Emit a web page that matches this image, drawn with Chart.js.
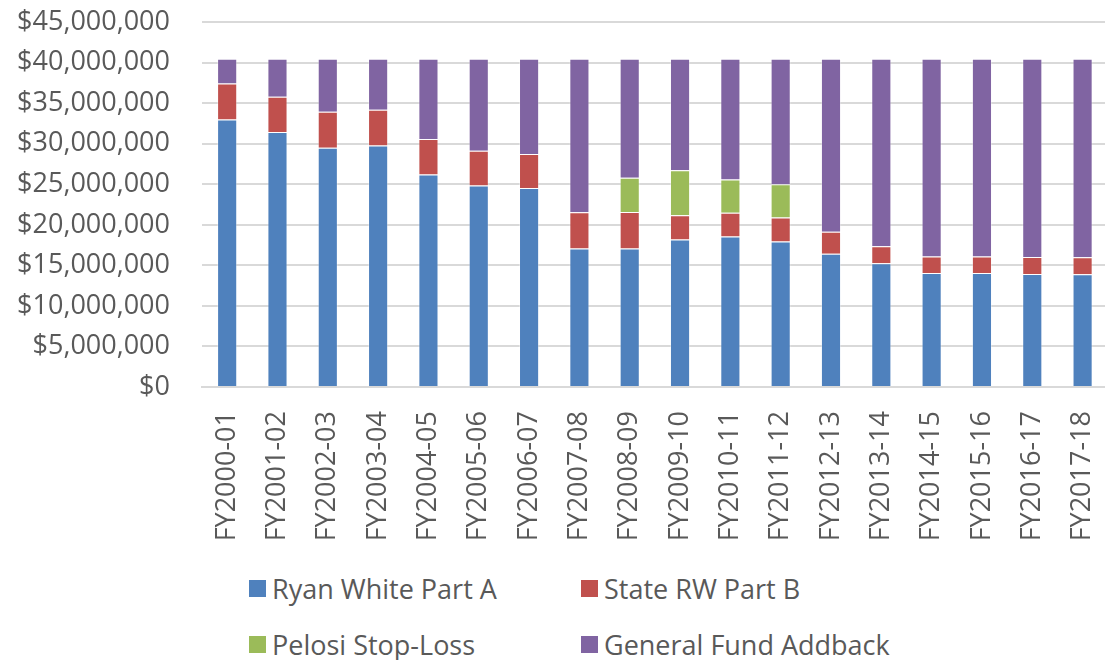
<!DOCTYPE html>
<html lang="en">
<head>
<meta charset="utf-8">
<title>Financiamiento por año fiscal</title>
<script src="https://cdn.jsdelivr.net/npm/chart.js@4.4.1/dist/chart.umd.min.js"></script>
<style>
    body { margin: 0; background: #fff; overflow: hidden; width: 1105px; height: 660px; position: relative; }
    /* El contenedor sobresale un poco para que el area de trazado quede como en la original */
    .contenedor-grafica { position: absolute; left: 0; top: -26px; width: 1139px; height: 586px; }
    .leyenda { position: absolute; left: 249px; top: 570px; display: grid; grid-template-columns: 332px 332px; row-gap: 20px;
               font-family: "Open Sans", sans-serif; font-size: 27px; color: #595959; }
    .leyenda-item { display: flex; align-items: center; height: 36px; }
    .leyenda-caja { width: 17px; height: 17px; margin-right: 6px; flex: none; }
</style>
</head>
<body>
<div class="contenedor-grafica"><canvas id="graficaFondos"></canvas></div>
<div class="leyenda" id="leyendaFondos"></div>

<script>
// Años fiscales del eje X
const categories = ["FY2000-01", "FY2001-02", "FY2002-03", "FY2003-04", "FY2004-05", "FY2005-06",
    "FY2006-07", "FY2007-08", "FY2008-09", "FY2009-10", "FY2010-11", "FY2011-12",
    "FY2012-13", "FY2013-14", "FY2014-15", "FY2015-16", "FY2016-17", "FY2017-18"];

// Series apiladas (dolares)
const ryanWhitePartA = [33000000, 31450000, 29500000, 29800000, 26200000, 24850000, 24550000, 17100000, 17100000,
    18200000, 18550000, 17950000, 16450000, 15250000, 14050000, 14050000, 13950000, 13900000];
const stateRwPartB = [4450000, 4350000, 4450000, 4400000, 4400000, 4300000, 4200000, 4450000, 4500000,
    3000000, 2950000, 2950000, 2700000, 2100000, 2050000, 2050000, 2100000, 2100000];
const pelosiStopLoss = [0, 0, 0, 0, 0, 0, 0, 0, 4200000, 5550000, 4100000, 4100000, 0, 0, 0, 0, 0, 0];
const generalFundAddback = [3050000, 4700000, 6550000, 6300000, 9900000, 11350000, 11750000, 18950000, 14700000,
    13750000, 14900000, 15500000, 21350000, 23150000, 24400000, 24400000, 24450000, 24500000];

// Marcas del eje Y
const yTicks = [0, 5000000, 10000000, 15000000, 20000000, 25000000, 30000000, 35000000, 40000000, 45000000];

const seriesNames = ["Ryan White Part A", "State RW Part B", "Pelosi Stop-Loss", "General Fund Addback"];
const seriesColors = ["#4F81BD", "#C0504D", "#9BBB59", "#8064A2"];
const seriesData = [ryanWhitePartA, stateRwPartB, pelosiStopLoss, generalFundAddback];

const textColor = "#595959";
const fontFamily = "'Open Sans', sans-serif";

const datasets = seriesData.map((values, i) => ({
    label: seriesNames[i],
    data: values,
    backgroundColor: seriesColors[i],
    borderColor: "rgba(255,255,255,0.35)",
    borderWidth: 1,
    barPercentage: 0.4,
    categoryPercentage: 1.0
}));

new Chart(document.getElementById('graficaFondos'), {
    type: 'bar',
    data: { labels: categories, datasets: datasets },
    options: {
        responsive: true,
        maintainAspectRatio: false,
        animation: false,
        layout: { padding: { top: 20, right: 0, left: 0, bottom: 0 } },
        plugins: { legend: { display: false }, tooltip: { enabled: false } },
        scales: {
            x: {
                stacked: true,
                grid: { display: false, drawTicks: false },
                border: { display: true, color: "#d9d9d9", width: 2 },
                ticks: {
                    color: textColor,
                    font: { family: fontFamily, size: 27 },
                    minRotation: 90,
                    maxRotation: 90,
                    padding: 24,
                    autoSkip: false
                },
                afterFit: (scale) => { scale.height = 173; }
            },
            y: {
                stacked: true,
                min: 0,
                max: 45000000,
                afterBuildTicks: (scale) => { scale.ticks = yTicks.map(v => ({ value: v })); },
                grid: { color: "#d9d9d9", lineWidth: 2, drawTicks: false },
                border: { display: false },
                ticks: {
                    color: textColor,
                    font: { family: fontFamily, size: 27 },
                    padding: 32,
                    callback: (v) => "$" + Number(v).toLocaleString("en-US")
                },
                afterFit: (scale) => { scale.width = 202; }
            }
        }
    }
});

// Leyenda en dos columnas, igual que la original
const legendBox = document.getElementById('leyendaFondos');
seriesNames.forEach((name, i) => {
    legendBox.innerHTML += `
        <div class="leyenda-item">
            <span class="leyenda-caja" style="background:${seriesColors[i]}"></span>
            <span>${name}</span>
        </div>`;
});
</script>
</body>
</html>
